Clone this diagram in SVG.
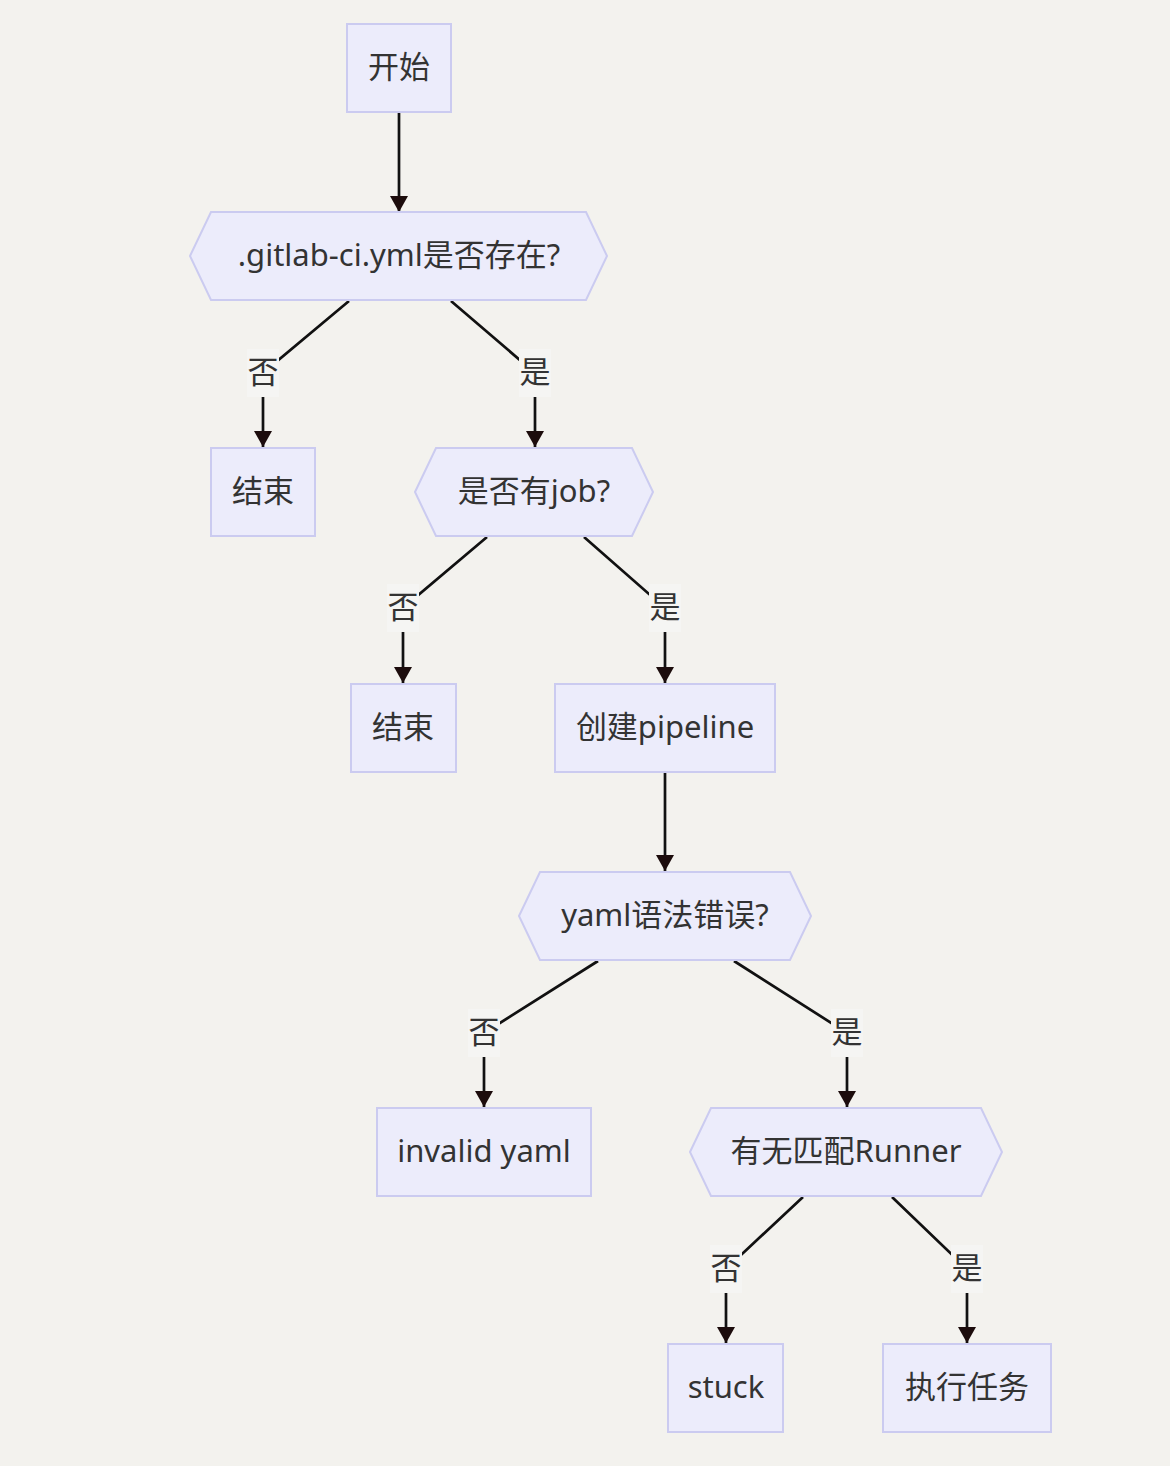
<svg xmlns="http://www.w3.org/2000/svg" width="1170" height="1466" viewBox="0 0 1170 1466">
<style>
.bg{fill:#f3f2ee}
.node rect,.node polygon{fill:#ececfb;stroke:#cbcbf0;stroke-width:2}
text{font-family:"Noto Sans","Noto Sans CJK SC",sans-serif;font-size:31px;fill:#333;text-anchor:middle;dominant-baseline:central}
.edge{fill:none;stroke:#111;stroke-width:2.7}
.lbl rect{fill:#f5f5f3}
</style>
<defs>
<marker id="arrow" markerUnits="userSpaceOnUse" markerWidth="16" markerHeight="18" viewBox="0 0 16 18" refX="16" refY="9" orient="auto">
<path d="M0,0 L16,9 L0,18 z" fill="#1c0c0c"/>
</marker>
</defs>
<rect class="bg" x="0" y="0" width="1170" height="1466"/>
<g id="connectors">
<path class="edge" d="M399,113 L399,212" marker-end="url(#arrow)"/>
<path class="edge" d="M349,301 L263,373 L263,447" marker-end="url(#arrow)"/>
<path class="edge" d="M451,301 L535,373 L535,447" marker-end="url(#arrow)"/>
<path class="edge" d="M487,537 L403,608 L403,683" marker-end="url(#arrow)"/>
<path class="edge" d="M584,537 L665,608 L665,683" marker-end="url(#arrow)"/>
<path class="edge" d="M665,773 L665,871" marker-end="url(#arrow)"/>
<path class="edge" d="M598,961 L484,1033 L484,1107" marker-end="url(#arrow)"/>
<path class="edge" d="M734,961 L847,1033 L847,1107" marker-end="url(#arrow)"/>
<path class="edge" d="M803,1197 L726,1269 L726,1343" marker-end="url(#arrow)"/>
<path class="edge" d="M892,1197 L967,1269 L967,1343" marker-end="url(#arrow)"/>
<g class="lbl"><rect x="247" y="349" width="32" height="48"/><text x="263" y="371">否</text></g>
<g class="lbl"><rect x="519" y="349" width="32" height="48"/><text x="535" y="371">是</text></g>
<g class="lbl"><rect x="387" y="584" width="32" height="48"/><text x="403" y="606">否</text></g>
<g class="lbl"><rect x="649" y="584" width="32" height="48"/><text x="665" y="606">是</text></g>
<g class="lbl"><rect x="468" y="1009" width="32" height="48"/><text x="484" y="1031">否</text></g>
<g class="lbl"><rect x="831" y="1009" width="32" height="48"/><text x="847" y="1031">是</text></g>
<g class="lbl"><rect x="710" y="1245" width="32" height="48"/><text x="726" y="1267">否</text></g>
<g class="lbl"><rect x="951" y="1245" width="32" height="48"/><text x="967" y="1267">是</text></g>
</g>
<g id="start" class="node"><rect x="347" y="24" width="104" height="88"/><text x="399" y="66">开始</text></g>
<g id="q1" class="node"><polygon points="190,256 211,212 586,212 607,256 586,300 211,300"/><text x="399" y="254">.gitlab-ci.yml是否存在?</text></g>
<g id="end1" class="node"><rect x="211" y="448" width="104" height="88"/><text x="263" y="490">结束</text></g>
<g id="q2" class="node"><polygon points="415,492 436,448 632,448 653,492 632,536 436,536"/><text x="534" y="490">是否有job?</text></g>
<g id="end2" class="node"><rect x="351" y="684" width="105" height="88"/><text x="403" y="726">结束</text></g>
<g id="pipeline" class="node"><rect x="555" y="684" width="220" height="88"/><text x="665" y="726">创建pipeline</text></g>
<g id="q3" class="node"><polygon points="519,916 540,872 790,872 811,916 790,960 540,960"/><text x="665" y="914">yaml语法错误?</text></g>
<g id="invalid" class="node"><rect x="377" y="1108" width="214" height="88"/><text x="484" y="1150">invalid yaml</text></g>
<g id="q4" class="node"><polygon points="690,1152 711,1108 981,1108 1002,1152 981,1196 711,1196"/><text x="846" y="1150">有无匹配Runner</text></g>
<g id="stuck" class="node"><rect x="668" y="1344" width="115" height="88"/><text x="726" y="1386">stuck</text></g>
<g id="run" class="node"><rect x="883" y="1344" width="168" height="88"/><text x="967" y="1386">执行任务</text></g>
</svg>
